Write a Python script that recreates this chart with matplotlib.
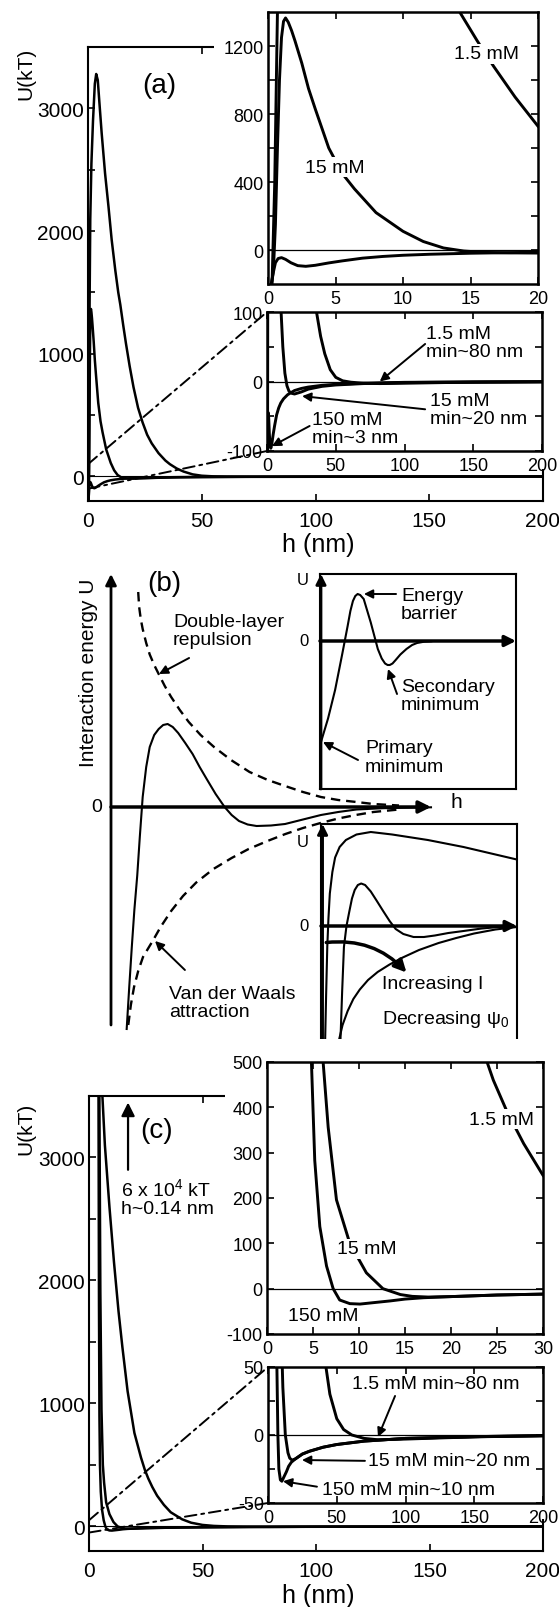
import matplotlib
matplotlib.use('Agg')
import matplotlib.pyplot as plt
from matplotlib.patches import Rectangle, ConnectionPatch

plt.rcParams['font.family'] = ['Liberation Sans', 'DejaVu Sans']
plt.rcParams['mathtext.fontset'] = 'custom'
plt.rcParams['mathtext.rm'] = 'Liberation Sans'
plt.rcParams['mathtext.it'] = 'Liberation Sans:italic'
plt.rcParams['mathtext.bf'] = 'Liberation Sans:bold'

# ---------------- data: panel (a) ----------------
h_a_1p5 = [0.3, 0.5, 0.7, 1.0, 1.5, 2.2, 3.0, 3.6, 4.3, 5.0, 6.0, 7.5, 9.0, 10.4, 12.0, 13.3,
           14.2, 15.5, 16.7, 18.3, 20, 22, 24, 26, 28, 31, 34, 36, 39, 42, 46, 50, 55, 61,
           70, 82, 100, 130, 160, 200]
u_a_1p5 = [-200, 400, 1400, 2100, 2550, 2900, 3200, 3280, 3230, 3050, 2800, 2470, 2200, 1930,
           1680, 1500, 1400, 1230, 1082, 900, 728, 560, 440, 340, 270, 190, 130, 100, 65, 40,
           17, 6, 1, -1, -2.5, -3, -2.5, -1.5, -1, -0.5]
h_a_15 = [0.25, 0.4, 0.55, 0.7, 0.85, 1.0, 1.15, 1.3, 1.5, 1.75, 2.0, 2.5, 3.0, 3.5, 4.5, 5.5,
          6.4, 8.0, 10, 11.5, 13, 14.5, 16, 18, 20, 25, 30, 40, 50, 70, 100, 150, 200]
u_a_15 = [-200, -120, 150, 600, 1000, 1250, 1345, 1365, 1340, 1290, 1230, 1100, 950, 830, 600,
          450, 360, 220, 110, 50, 12, -6, -14, -17, -18, -15, -11, -7, -5, -3, -1.5, -0.7, -0.3]
h_a_150 = [0.25, 0.4, 0.55, 0.75, 1.0, 1.3, 1.7, 2.2, 2.8, 3.5, 4.5, 5.5, 7, 8.5, 10, 12, 15,
           20, 25, 30, 40, 50, 70, 100, 150, 200]
u_a_150 = [-200, -130, -75, -50, -45, -55, -75, -92, -96, -90, -76, -64, -48, -38, -31, -25,
           -19, -13, -10, -8, -5.5, -4, -2.5, -1.2, -0.6, -0.3]

# ---------------- data: panel (c) ----------------
h_c_1p5 = [4.5, 5.0, 5.9, 7, 9, 11, 13, 14.7, 17, 20, 22.9, 24.6, 26.1, 27.9, 30, 33, 36, 41,
           45, 50, 55, 61, 70, 80, 100, 130, 160, 200]
u_c_1p5 = [5000, 4200, 3500, 3100, 2600, 2150, 1750, 1460, 1100, 760, 560, 460, 390, 320, 250,
           175, 115, 58, 30, 12, 4, 0, -2.5, -3.5, -3, -2, -1.2, -0.6]
h_c_15 = [4.3, 4.6, 5.0, 5.5, 6.1, 6.65, 7.55, 9.0, 10.8, 12.6, 14.5, 15.8, 17.5, 20, 25, 30,
          40, 50, 70, 100, 150, 200]
u_c_15 = [5000, 3400, 1900, 950, 500, 356, 196, 100, 35, 0, -13, -17, -18.5, -17.5, -14, -12,
          -9, -7, -4.5, -2.5, -1.2, -0.5]
h_c_150 = [4.0, 4.2, 4.4, 4.6, 4.83, 5.19, 5.74, 6.47, 7.19, 7.9, 9.0, 10.1, 11.5, 13.4, 15,
           17, 20, 25, 30, 40, 50, 70, 100, 150, 200]
u_c_150 = [5000, 3400, 1800, 900, 500, 283, 137, 50, 0, -25, -33, -34, -31, -27, -23, -20,
           -17.5, -14, -12, -9, -7, -4.5, -2.5, -1.2, -0.5]

# ---------------- data: panel (b) (schematic, arbitrary units) ----------------
hb_total = [0.49, 0.57, 0.65, 0.73, 0.82, 0.90, 0.99, 1.10, 1.21, 1.35, 1.49, 1.63, 1.77, 1.93,
            2.10, 2.32, 2.55, 2.77, 2.99, 3.27, 3.55, 3.77, 4.00, 4.27, 4.55, 5.0, 5.44, 6.0,
            6.56, 7.1, 7.67, 8.5, 9.34, 10.0]
ub_total = [-2.22, -1.80, -1.40, -1.03, -0.685, -0.30, 0.10, 0.40, 0.60, 0.72, 0.78, 0.82, 0.83,
            0.80, 0.74, 0.64, 0.53, 0.40, 0.28, 0.13, 0.0, -0.08, -0.14, -0.175, -0.19, -0.185,
            -0.17, -0.125, -0.08, -0.05, -0.025, -0.012, -0.006, -0.003]
hb_rep = [0.85, 0.88, 0.93, 0.99, 1.1, 1.21, 1.35, 1.49, 1.68, 1.88, 2.15, 2.43, 2.8, 3.22,
          3.75, 4.33, 4.9, 5.44, 6.0, 6.56, 7.1, 7.67, 8.2, 9.0]
ub_rep = [2.15, 2.0, 1.88, 1.78, 1.64, 1.525, 1.42, 1.33, 1.21, 1.10, 0.97, 0.85, 0.72, 0.60,
          0.47, 0.35, 0.27, 0.21, 0.15, 0.10, 0.07, 0.05, 0.03, 0.015]
hb_att = [0.54, 0.62, 0.72, 0.85, 1.0, 1.15, 1.32, 1.55, 1.88, 2.25, 2.66, 3.2, 3.77, 4.3, 4.89,
          5.45, 6.0, 6.55, 7.1, 7.65, 8.2, 9.0]
ub_att = [-2.18, -1.98, -1.80, -1.64, -1.50, -1.42, -1.33, -1.20, -1.04, -0.89, -0.756, -0.62,
          -0.51, -0.42, -0.34, -0.27, -0.21, -0.16, -0.115, -0.08, -0.05, -0.025]
hb1 = [0.05, 0.41, 0.77, 1.13, 1.41, 1.55, 1.68, 1.80, 1.92, 2.05, 2.23, 2.59, 2.95, 3.15,
       3.32, 3.45, 3.56, 3.70, 3.86, 4.10, 4.41, 4.70, 4.95, 5.30, 5.68]
ub1 = [-2.02, -1.55, -0.98, -0.27, 0.30, 0.60, 0.80, 0.90, 0.94, 0.92, 0.84, 0.37, -0.16,
       -0.35, -0.45, -0.48, -0.48, -0.45, -0.38, -0.27, -0.16, -0.08, -0.04, -0.015, -0.006]
hb2_top = [0.21, 0.26, 0.32, 0.38, 0.45, 0.58, 0.72, 0.95, 1.27, 1.81, 2.54, 3.63, 5.45, 7.27, 9.99]
ub2_top = [-2.31, -1.4, -0.42, 0.15, 0.65, 1.08, 1.37, 1.58, 1.72, 1.83, 1.88, 1.83, 1.72, 1.58, 1.33]
hb2_mid = [0.99, 1.08, 1.17, 1.30, 1.45, 1.58, 1.72, 1.88, 2.05, 2.25, 2.54, 2.85, 3.17, 3.5,
           3.81, 4.2, 4.72, 5.25, 5.81, 6.5, 7.27, 8.2, 9.09, 9.99]
ub2_mid = [-2.31, -1.3, -0.42, 0.0, 0.30, 0.55, 0.72, 0.82, 0.85, 0.82, 0.69, 0.50, 0.30, 0.10,
           -0.06, -0.16, -0.22, -0.22, -0.19, -0.14, -0.10, -0.05, -0.02, -0.01]
hb2_bot = [0.90, 1.1, 1.36, 1.65, 1.98, 2.4, 2.89, 3.5, 4.17, 5.0, 6.0, 6.9, 7.81, 8.9, 9.99]
ub2_bot = [-2.31, -1.98, -1.70, -1.46, -1.27, -1.08, -0.92, -0.77, -0.63, -0.48, -0.34, -0.24,
           -0.15, -0.07, -0.02]

main_xticks = [0, 50, 100, 150, 200]
main_yticks = [0, 500, 1000, 1500, 2000, 2500, 3000]
main_ylabels = ['0', '', '1000', '', '2000', '', '3000']

# ---------------- figure ----------------
W, H = 559, 1608
fig = plt.figure(figsize=(W / 100, H / 100), dpi=100)


def rect(l, t, r, b):
    return [l / W, 1 - b / H, (r - l) / W, (b - t) / H]


def ftext(x, y, s, **kw):
    kw.setdefault('ha', 'center')
    kw.setdefault('va', 'center')
    return fig.text(x / W, 1 - y / H, s, **kw)


def cover(l, t, r, b):
    fig.add_artist(Rectangle((l / W, 1 - b / H), (r - l) / W, (b - t) / H,
                             transform=fig.transFigure, fc='white', ec='none', zorder=0.5))


def setup(ax, xlim, ylim, xt, xl, yt, yl, fs, lw, tl=5, xpad=4, ypad=3):
    ax.set_xlim(*xlim)
    ax.set_ylim(*ylim)
    ax.set_xticks(xt)
    ax.set_xticklabels(xl)
    ax.set_yticks(yt)
    ax.set_yticklabels(yl)
    ax.tick_params(axis='both', direction='in', top=True, right=True, length=tl,
                   width=1.2, labelsize=fs, colors='k')
    ax.tick_params(axis='x', pad=xpad)
    ax.tick_params(axis='y', pad=ypad)
    for s in ax.spines.values():
        s.set_linewidth(lw)
    ax.patch.set_facecolor('white')


LBL = dict(fontsize=14)
WB = dict(fc='white', ec='none', pad=1.0)
ARR = dict(arrowstyle='-|>', lw=1.4, color='k', mutation_scale=13, shrinkA=0, shrinkB=0)
DASHDOT = (0, (6, 2.5, 1.5, 2.5))


def arrow(ax, tip, tail, **kw):
    props = dict(ARR)
    props.update(kw)
    ax.annotate('', xy=tip, xytext=tail, arrowprops=props, annotation_clip=False)


def zoom_panel(main_rect, in1_rect, in2_rect, cov, curves, in1_cfg, in2_cfg):
    ax = fig.add_axes(rect(*main_rect))
    for h, u in curves:
        ax.plot(h, u, color='k', lw=1.8)
    ax.axhline(0, color='k', lw=0.8)
    setup(ax, (0, 200), (-200, 3500), main_xticks, [str(v) for v in main_xticks],
          main_yticks, main_ylabels, 15, 1.5, tl=5, xpad=7, ypad=3)
    cover(*cov)
    a1 = fig.add_axes(rect(*in1_rect))
    a1.set_zorder(1)
    for h, u in curves:
        a1.plot(h, u, color='k', lw=2.1)
    a1.axhline(0, color='k', lw=0.9)
    setup(a1, *in1_cfg, 13, 1.8, tl=5, xpad=4, ypad=3)
    a2 = fig.add_axes(rect(*in2_rect))
    a2.set_zorder(1)
    for h, u in curves:
        a2.plot(h, u, color='k', lw=2.1)
    a2.axhline(0, color='k', lw=0.9)
    setup(a2, *in2_cfg, 13, 1.8, tl=5, xpad=4, ypad=3)
    lim = in2_cfg[1]
    for ya, yb in [(lim[1], 1), (lim[0], 0)]:
        cp = ConnectionPatch(xyA=(0, ya), coordsA=ax.transData, xyB=(0, yb),
                             coordsB=a2.transAxes, color='k', lw=1.4, ls=DASHDOT, zorder=4)
        cp.set_clip_on(False)
        fig.add_artist(cp)
    return ax, a1, a2


# ---------------- panel (a) ----------------
curves_a = [(h_a_1p5, u_a_1p5), (h_a_15, u_a_15), (h_a_150, u_a_150)]
ax_a, a1, a2 = zoom_panel(
    (88, 48, 543, 502), (268, 13, 538, 285), (267, 313, 542, 452), (214, 0, 559, 470),
    curves_a,
    ((0, 20), (-200, 1400), [0, 5, 10, 15, 20], ['0', '5', '10', '15', '20'],
     [0, 200, 400, 600, 800, 1000, 1200], ['0', '', '400', '', '800', '', '1200']),
    ((0, 200), (-100, 100), [0, 50, 100, 150, 200], ['0', '50', '100', '150', '200'],
     [-100, -50, 0, 50, 100], ['-100', '', '0', '', '100']))
a1.text(16.2, 1153, '1.5 mM', ha='center', va='center', bbox=WB, zorder=5, **LBL)
a1.text(4.96, 488, '15 mM', ha='center', va='center', bbox=WB, zorder=5, **LBL)
a2.text(116, 56, '1.5 mM\nmin~80 nm', ha='left', va='center', linespacing=1.1, zorder=5, **LBL)
a2.text(118.5, -40, '15 mM\nmin~20 nm', ha='left', va='center', linespacing=1.1, zorder=5, **LBL)
a2.text(32.7, -67.6, '150 mM\nmin~3 nm', ha='left', va='center', linespacing=1.1, zorder=5, **LBL)
arrow(a2, (82, 0), (115, 54))
arrow(a2, (25.5, -21), (115, -40))
arrow(a2, (3.6, -93), (31, -64))
ftext(159, 86, '(a)', fontsize=20)
ftext(26, 74, 'U(kT)', fontsize=15, rotation=90)
ftext(318, 545, 'h (nm)', fontsize=18)

# ---------------- panel (c) ----------------
curves_c = [(h_c_1p5, u_c_1p5), (h_c_15, u_c_15), (h_c_150, u_c_150)]
ax_c, c1, c2 = zoom_panel(
    (89, 1097, 543, 1552), (267, 1063, 543, 1335), (268, 1368, 543, 1504),
    (225, 1040, 559, 1520),
    curves_c,
    ((0, 30), (-100, 500), [0, 5, 10, 15, 20, 25, 30], ['0', '5', '10', '15', '20', '25', '30'],
     [-100, 0, 100, 200, 300, 400, 500], ['-100', '0', '100', '200', '300', '400', '500']),
    ((0, 200), (-50, 50), [0, 50, 100, 150, 200], ['0', '50', '100', '150', '200'],
     [-50, -25, 0, 25, 50], ['-50', '', '0', '', '50']))
c1.text(25.5, 374, '1.5 mM', ha='center', va='center', bbox=WB, zorder=5, **LBL)
c1.text(10.8, 88, '15 mM', ha='center', va='center', bbox=WB, zorder=5, **LBL)
c1.text(6.1, -60, '150 mM', ha='center', va='center', zorder=5, **LBL)
c2.text(61, 37.5, '1.5 mM min~80 nm', ha='left', va='center', zorder=5, **LBL)
c2.text(72.7, -19, '15 mM min~20 nm', ha='left', va='center', zorder=5, **LBL)
c2.text(39.3, -40.4, '150 mM min~10 nm', ha='left', va='center', zorder=5, **LBL)
arrow(c2, (80, -1.5), (92.4, 28.7))
arrow(c2, (24.7, -18.4), (70.5, -19))
arrow(c2, (10.9, -34), (35.6, -38))
arrow(ax_c, (17.2, 3447), (17.2, 2900), lw=1.6, mutation_scale=20)
ftext(157, 1131, '(c)', fontsize=20)
ftext(121, 1189, '6 x 10$^{4}$ kT', fontsize=14, ha='left')
ftext(121, 1209, 'h~0.14 nm', fontsize=14, ha='left')
ftext(26, 1129, 'U(kT)', fontsize=15, rotation=90)
ftext(318, 1596, 'h (nm)', fontsize=18)

# ---------------- panel (b) ----------------
ax_b = fig.add_axes(rect(60, 555, 480, 1045))
ax_b.set_xlim((60 - 111) / 32, (480 - 111) / 32)
ax_b.set_ylim((808 - 1045) / 100, (808 - 555) / 100)
ax_b.axis('off')
ax_b.plot(hb_rep, ub_rep, color='k', lw=1.7, ls=(0, (4, 2.5)))
ax_b.plot(hb_att, ub_att, color='k', lw=1.7, ls=(0, (4, 2.5)))
ax_b.plot(hb_total, ub_total, color='k', lw=1.5)
arrow(ax_b, (0, 2.33), (0, -2.18), lw=2, mutation_scale=16)
arrow(ax_b, (10, 0), (0, 0), lw=2.5, mutation_scale=18)
arrow(ax_b, (1.5, 1.33), (2.44, 1.49))
arrow(ax_b, (1.375, -1.34), (2.31, -1.63))
ftext(164, 584, '(b)', fontsize=20)
ftext(173, 631.5, 'Double-layer\nrepulsion', fontsize=14, ha='left', linespacing=1.15)
ftext(169, 1003.5, 'Van der Waals\nattraction', fontsize=14, ha='left', linespacing=1.15)
ftext(89, 673, 'Interaction energy U', fontsize=15, rotation=90)
ftext(97, 808, '0', fontsize=14)
ftext(456, 803, 'h', fontsize=15)

# inset b1
b1 = fig.add_axes(rect(320, 575, 516, 790))
b1.set_xlim(0, 10)
b1.set_ylim(-2.96, 1.34)
b1.set_xticks([])
b1.set_yticks([])
for s in b1.spines.values():
    s.set_linewidth(1.5)
b1.plot(hb1, ub1, color='k', lw=1.5)
arrow(b1, (0.05, 1.34), (0.05, -2.96), lw=2, mutation_scale=15)
arrow(b1, (10, 0), (0, 0), lw=2.5, mutation_scale=16)
arrow(b1, (2.24, 0.94), (3.88, 0.94))
arrow(b1, (3.47, -0.56), (3.93, -1.06))
arrow(b1, (0.15, -2.02), (1.94, -2.38))
ftext(303, 581, 'U', fontsize=12)
ftext(304, 642, '0', fontsize=12)
ftext(401, 605.5, 'Energy\nbarrier', fontsize=14, ha='left', linespacing=1.1)
ftext(401, 696.5, 'Secondary\nminimum', fontsize=14, ha='left', linespacing=1.1)
ftext(365, 758, 'Primary\nminimum', fontsize=14, ha='left', linespacing=1.1)

# inset b2
b2 = fig.add_axes(rect(321, 825, 517, 1042))
b2.set_xlim(0, 10)
b2.set_ylim(-2.3, 2.04)
b2.set_xticks([])
b2.set_yticks([])
for s in b2.spines.values():
    s.set_linewidth(1.5)
for h, u in [(hb2_top, ub2_top), (hb2_mid, ub2_mid), (hb2_bot, ub2_bot)]:
    b2.plot(h, u, color='k', lw=1.5)
arrow(b2, (0.08, 2.04), (0.08, -2.3), lw=2, mutation_scale=15)
arrow(b2, (10, 0), (0, 0), lw=2.5, mutation_scale=16)
arrow(b2, (4.36, -0.93), (0.27, -0.33), lw=2.5, mutation_scale=18,
      connectionstyle='arc3,rad=-0.25')
ftext(303, 843, 'U', fontsize=12)
ftext(304, 927, '0', fontsize=12)
ftext(381.5, 985, 'Increasing I', fontsize=14, ha='left')
ftext(381.5, 1019, 'Decreasing ψ$_0$', fontsize=14, ha='left')

fig.savefig('out.png', dpi=100, facecolor='white')
